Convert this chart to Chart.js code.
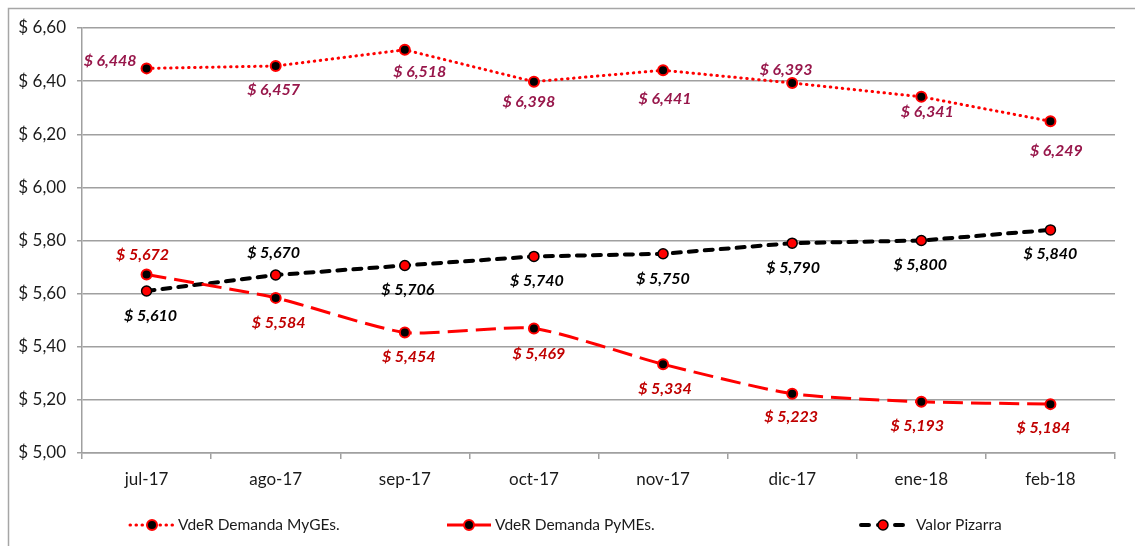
<!DOCTYPE html>
<html><head><meta charset="utf-8">
<script src="https://cdn.jsdelivr.net/npm/chart.js@4"></script>
<style>body{margin:0;background:#fff}canvas{display:block}</style></head>
<body><canvas id="c" width="1135" height="546"></canvas>
<script>
const categories = ['jul-17','ago-17','sep-17','oct-17','nov-17','dic-17','ene-18','feb-18'];
const seriesNames = ['VdeR Demanda MyGEs.', 'VdeR Demanda PyMEs.', 'Valor Pizarra'];
const mygesValues = [6.448, 6.457, 6.518, 6.398, 6.441, 6.393, 6.341, 6.249];
const pymesValues = [5.672, 5.584, 5.454, 5.469, 5.334, 5.223, 5.193, 5.184];
const pizarraValues = [5.610, 5.670, 5.706, 5.740, 5.750, 5.790, 5.800, 5.840];
const yMin = 5.0, yMax = 6.6, yStep = 0.2;

const fmtLabel = v => '$ ' + v.toFixed(3).replace('.', ',');
const fmtTick = v => '$ ' + v.toFixed(2).replace('.', ',');

// label offsets relative to each point (dx, dy, align)
const mygesLabelPos = [[-10,-8,'right'],[-2,24],[15,22],[-5,20],[2,29],[-6,-13],[6,15],[6,30]];
const pymesLabelPos = [[-4,-20],[3,25],[4,24],[5,25],[2,25],[-1,23],[-4,24],[-7,24]];
const pizarraLabelPos = [[4,25],[-2,-22],[3,24],[3,24],[0,25],[1,25],[-1,24],[0,24]];

const labelPlugin = {
  id: 'labels',
  afterDatasetsDraw(chart) {
    const ctx = chart.ctx;
    ctx.save();
    ctx.font = 'italic bold 16px Lato';
    ctx.textBaseline = 'middle';
    chart.data.datasets.forEach((ds, i) => {
      const meta = chart.getDatasetMeta(i);
      meta.data.forEach((pt, j) => {
        const p = ds.labelPos[j];
        ctx.fillStyle = ds.labelColor;
        ctx.textAlign = p[2] || 'center';
        ctx.fillText(fmtLabel(ds.data[j]), pt.x + p[0], pt.y + p[1]);
      });
    });
    ctx.restore();
  }
};

const framePlugin = {
  id: 'frame',
  beforeDraw(chart) {
    const ctx = chart.ctx;
    ctx.save();
    ctx.fillStyle = '#fff';
    ctx.fillRect(0, 0, chart.width, chart.height);
    ctx.strokeStyle = '#a6a6a6';
    ctx.lineWidth = 1.5;
    ctx.beginPath();
    ctx.moveTo(8.5, chart.height);
    ctx.lineTo(8.5, 8.5);
    ctx.lineTo(chart.width, 8.5);
    ctx.stroke();
    ctx.restore();
  }
};

const legendX = [130, 447, 861];
const legendTextGap = [4, 4, 11];
const legendPlugin = {
  id: 'customLegend',
  afterDraw(chart) {
    const ctx = chart.ctx;
    const y = 525;
    ctx.save();
    chart.data.datasets.forEach((ds, i) => {
      const x0 = legendX[i], len = 44;
      ctx.save();
      ctx.strokeStyle = ds.borderColor;
      ctx.lineWidth = ds.borderWidth;
      ctx.lineCap = ds.borderCapStyle || 'butt';
      ctx.setLineDash(ds.legendDash || ds.borderDash || []);
      ctx.beginPath();
      ctx.moveTo(x0, y);
      ctx.lineTo(x0 + len, y);
      ctx.stroke();
      ctx.restore();
      ctx.beginPath();
      ctx.arc(x0 + len / 2, y, ds.pointRadius, 0, Math.PI * 2);
      ctx.fillStyle = ds.pointBackgroundColor;
      ctx.fill();
      ctx.lineWidth = ds.pointBorderWidth;
      ctx.strokeStyle = ds.pointBorderColor;
      ctx.stroke();
      ctx.fillStyle = '#1a1a1a';
      ctx.font = '15.5px Lato';
      ctx.textAlign = 'left';
      ctx.textBaseline = 'middle';
      ctx.fillText(seriesNames[i], x0 + len + legendTextGap[i], y);
    });
    ctx.restore();
  }
};

new Chart(document.getElementById('c'), {
  type: 'line',
  data: {
    labels: categories,
    datasets: [
      {
        label: seriesNames[0], data: mygesValues,
        borderColor: '#ff0000', borderWidth: 3, borderDash: [0.5, 5.5], borderCapStyle: 'round',
        pointRadius: 5, pointBackgroundColor: '#000', pointBorderColor: '#ff0000', pointBorderWidth: 2,
        tension: 0, labelColor: '#98174b', labelPos: mygesLabelPos, legendDash: [0.5, 5.5]
      },
      {
        label: seriesNames[1], data: pymesValues,
        borderColor: '#ff0000', borderWidth: 3, borderDash: [20, 8],
        pointRadius: 5, pointBackgroundColor: '#000', pointBorderColor: '#ff0000', pointBorderWidth: 2,
        cubicInterpolationMode: 'default', tension: 0.2, labelColor: '#c00000', labelPos: pymesLabelPos, legendDash: []
      },
      {
        label: seriesNames[2], data: pizarraValues,
        borderColor: '#000000', borderWidth: 4, borderDash: [8, 8], borderCapStyle: 'round',
        pointRadius: 5, pointBackgroundColor: '#ff0000', pointBorderColor: '#000', pointBorderWidth: 1.5,
        tension: 0, labelColor: '#000000', labelPos: pizarraLabelPos, legendDash: [8, 9]
      }
    ]
  },
  options: {
    responsive: false,
    animation: false,
    events: [],
    layout: { padding: { left: 0, right: 20, top: 28, bottom: 48 } },
    plugins: { legend: { display: false }, tooltip: { enabled: false } },
    scales: {
      x: {
        offset: true,
        grid: { drawOnChartArea: false, drawTicks: true, tickLength: 6, offset: true, color: '#a0a0a0', lineWidth: 1.5 },
        border: { display: true, color: '#a0a0a0', width: 1.5 },
        ticks: { color: '#1a1a1a', font: { family: 'Lato', size: 17 }, padding: 10, maxRotation: 0 },
        afterFit(s) { s.height = 45; }
      },
      y: {
        min: yMin, max: yMax,
        grid: { color: '#a0a0a0', lineWidth: 1.5, tickLength: 5 },
        border: { display: true, color: '#a0a0a0', width: 1.5 },
        ticks: { stepSize: yStep, color: '#1a1a1a', font: { family: 'Lato', size: 17 }, padding: 11, callback: v => fmtTick(v) },
        afterFit(s) { s.width = 82; }
      }
    }
  },
  plugins: [framePlugin, labelPlugin, legendPlugin]
});
</script>
</body></html>
